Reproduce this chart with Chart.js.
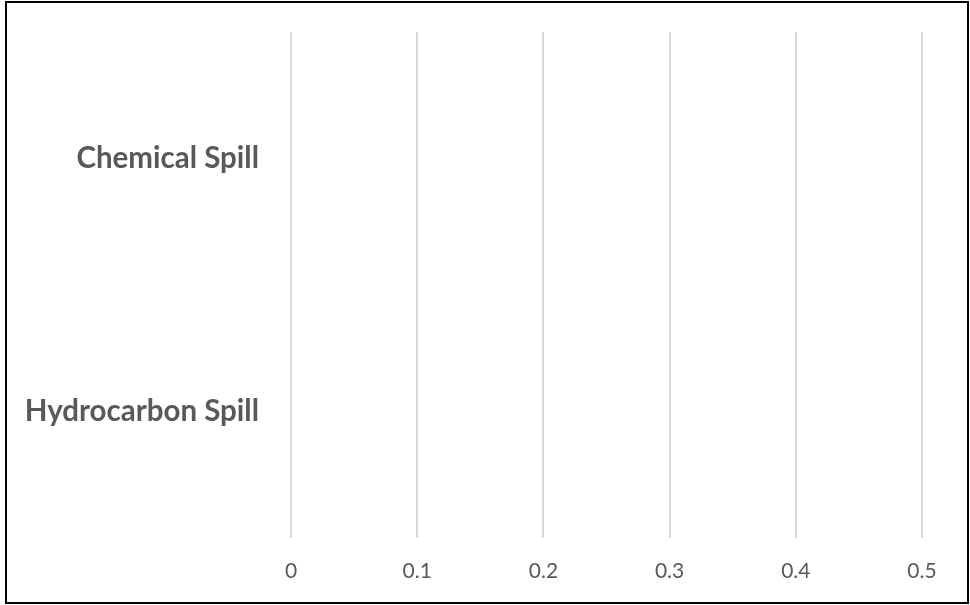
<!DOCTYPE html>
<html>
<head>
<meta charset="utf-8">
<script src="https://cdn.jsdelivr.net/npm/chart.js@4/dist/chart.umd.min.js"></script>
<style>
  html, body { margin: 0; padding: 0; background: #fff; }
  #wrap { position: relative; width: 970px; height: 605px; }
  #c { position: absolute; left: 0; top: 0; }
  #frame { position: absolute; left: 5px; top: 1px; width: 964px; height: 603px; box-sizing: border-box; border: 2px solid #000; pointer-events: none; }
</style>
</head>
<body>
<div id="wrap">
  <canvas id="c" width="970" height="605"></canvas>
  <div id="frame"></div>
</div>
<script>
const categories = ['Chemical Spill', 'Hydrocarbon Spill'];
const seriesValues = [0, 0];
const xTicks = [0, 0.1, 0.2, 0.3, 0.4, 0.5];

new Chart(document.getElementById('c'), {
  type: 'bar',
  data: {
    labels: categories,
    datasets: [{ label: 'Series', data: seriesValues, backgroundColor: '#4472c4', borderWidth: 0 }]
  },
  options: {
    indexAxis: 'y',
    responsive: false,
    animation: false,
    devicePixelRatio: 1,
    layout: { padding: { left: 0, right: 48, top: 32, bottom: 0 } },
    plugins: { legend: { display: false }, tooltip: { enabled: false } },
    scales: {
      x: {
        min: xTicks[0],
        max: xTicks[xTicks.length - 1],
        afterBuildTicks: (s) => { s.ticks = xTicks.map(v => ({ value: v })); },
        afterFit: (s) => { s.height = 67; s.paddingLeft = 0; s.paddingRight = 0; },
        grid: { color: '#d9d9d9', lineWidth: 2, drawTicks: false },
        border: { display: false },
        ticks: { padding: 21, color: '#595959', font: { family: 'Lato', size: 21 } }
      },
      y: {
        afterFit: (s) => { s.width = 291; s.paddingTop = 0; s.paddingBottom = 0; },
        grid: { display: false, drawTicks: false },
        border: { display: false },
        ticks: { padding: 32, color: '#595959', font: { family: 'Lato', size: 29.5, weight: 'bold' } }
      }
    }
  }
});
</script>
</body>
</html>
